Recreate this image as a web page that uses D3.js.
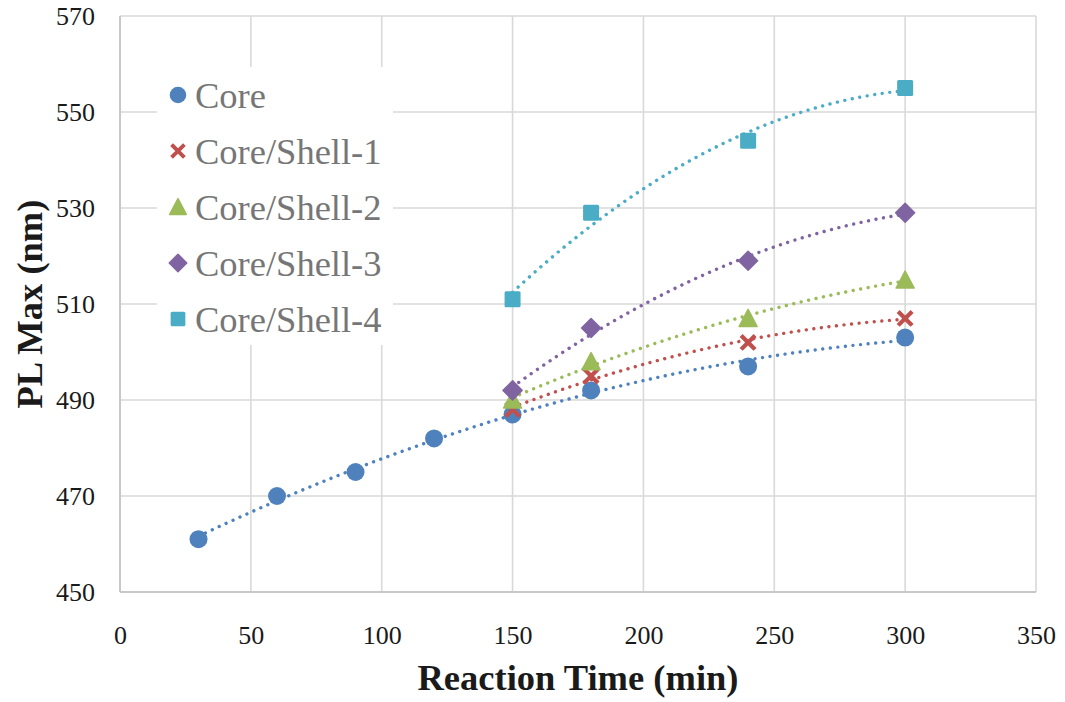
<!DOCTYPE html>
<html><head><meta charset="utf-8">
<script src="https://cdn.jsdelivr.net/npm/d3@7"></script>
<style>body{margin:0;background:#fff;}svg{display:block;}
.tick text{font-family:'Liberation Serif','Times New Roman',serif !important;font-size:26px !important;fill:#1a1a1a !important;}
</style>
</head><body>
<svg id="chart" width="1065" height="702"></svg>
<script>
const seriesNames = ["Core","Core/Shell-1","Core/Shell-2","Core/Shell-3","Core/Shell-4"];
const coreTime = [30,60,90,120,150,180,240,300];
const coreValues = [461,470,475,482,487,492,497,503];
const shellTime = [150,180,240,300];
const shell1Values = [488,495,502,507];
const shell2Values = [490,498,507,515];
const shell3Values = [492,505,519,529];
const shell4Values = [511,529,544,555];
const xTicks = [0,50,100,150,200,250,300,350];
const yTicks = [450,470,490,510,530,550,570];
const colors = ["#4F81BD","#C0504D","#9BBB59","#8064A2","#4BACC6"];
const shapes = ["circle","x","triangle","diamond","square"];

const series = [
  {name:seriesNames[0], xs:coreTime, ys:coreValues},
  {name:seriesNames[1], xs:shellTime, ys:shell1Values},
  {name:seriesNames[2], xs:shellTime, ys:shell2Values},
  {name:seriesNames[3], xs:shellTime, ys:shell3Values},
  {name:seriesNames[4], xs:shellTime, ys:shell4Values}
];

const svg = d3.select("#chart");
const M = {left:120, top:16, right:1036, bottom:592};
const x = d3.scaleLinear().domain([0,350]).range([M.left,M.right]);
const y = d3.scaleLinear().domain([450,570]).range([M.bottom,M.top]);
const serif = "'Liberation Serif','Times New Roman',serif";

// gridlines
const grid = svg.append("g");
grid.selectAll("line.h").data(yTicks).join("line")
  .attr("x1",M.left).attr("x2",M.right).attr("y1",d=>y(d)).attr("y2",d=>y(d))
  .attr("stroke","#d9d9d9").attr("stroke-width",1.6);
grid.selectAll("line.v").data(xTicks).join("line")
  .attr("y1",M.top).attr("y2",M.bottom).attr("x1",d=>x(d)).attr("x2",d=>x(d))
  .attr("stroke","#d9d9d9").attr("stroke-width",1.6);
// axis lines
svg.append("line").attr("x1",M.left).attr("x2",M.left).attr("y1",M.top).attr("y2",M.bottom).attr("stroke","#c8c8c8").attr("stroke-width",2);
svg.append("line").attr("x1",M.left).attr("x2",M.right).attr("y1",M.bottom).attr("y2",M.bottom).attr("stroke","#c8c8c8").attr("stroke-width",2);

// axes via d3 axis (tick labels only)
const xAxis = svg.append("g").attr("transform",`translate(0,${M.bottom})`)
  .call(d3.axisBottom(x).tickValues(xTicks).tickSize(0).tickPadding(34).tickFormat(d3.format("d")));
const yAxis = svg.append("g").attr("transform",`translate(${M.left},0)`)
  .call(d3.axisLeft(y).tickValues(yTicks).tickSize(0).tickPadding(25).tickFormat(d3.format("d")));
[xAxis,yAxis].forEach(a=>{
  a.select(".domain").remove();
  a.attr("font-family",serif).attr("font-size",26);
  a.selectAll("text").style("font-family",serif).style("font-size","26px").attr("fill","#1a1a1a");
});

// polynomial (order 2) least-squares trendline
function polyfit(xs, ys){
  let S=[0,0,0,0,0], T=[0,0,0];
  xs.forEach((xv,i)=>{
    for(let k=0;k<5;k++) S[k]+=Math.pow(xv,k);
    for(let k=0;k<3;k++) T[k]+=ys[i]*Math.pow(xv,k);
  });
  const A=[[S[0],S[1],S[2],T[0]],[S[1],S[2],S[3],T[1]],[S[2],S[3],S[4],T[2]]];
  for(let i=0;i<3;i++){
    let p=i; for(let r=i+1;r<3;r++) if(Math.abs(A[r][i])>Math.abs(A[p][i])) p=r;
    [A[i],A[p]]=[A[p],A[i]];
    for(let r=0;r<3;r++){ if(r===i) continue; const f=A[r][i]/A[i][i];
      for(let c=i;c<4;c++) A[r][c]-=f*A[i][c]; }
  }
  const c=[A[0][3]/A[0][0],A[1][3]/A[1][1],A[2][3]/A[2][2]];
  return t=>c[0]+c[1]*t+c[2]*t*t;
}

const line = d3.line().x(d=>x(d[0])).y(d=>y(d[1]));
series.forEach((s,i)=>{
  const f = polyfit(s.xs,s.ys);
  const x0=d3.min(s.xs), x1=d3.max(s.xs);
  const pts = d3.range(0,101).map(k=>{const t=x0+(x1-x0)*k/100; return [t,f(t)];});
  svg.append("path").attr("d",line(pts)).attr("fill","none")
    .attr("stroke",colors[i]).attr("stroke-width",3.4)
    .attr("stroke-linecap","round").attr("stroke-dasharray","0.01 7.6");
});

function drawMarker(g, shape, color, cx, cy, sc){
  sc = sc||1;
  if(shape==="circle"){
    g.append("circle").attr("cx",cx).attr("cy",cy).attr("r",9*sc).attr("fill",color);
  } else if(shape==="square"){
    const h=8*sc;
    g.append("rect").attr("x",cx-h).attr("y",cy-h).attr("width",2*h).attr("height",2*h).attr("rx",1.5).attr("fill",color);
  } else if(shape==="diamond"){
    const h=9.5*sc;
    g.append("path").attr("d",`M${cx},${cy-h}L${cx+h},${cy}L${cx},${cy+h}L${cx-h},${cy}Z`)
      .attr("fill",color).attr("stroke",color).attr("stroke-width",1.5).attr("stroke-linejoin","round");
  } else if(shape==="triangle"){
    const h=9*sc;
    g.append("path").attr("d",`M${cx},${cy-h}L${cx+h},${cy+h*0.9}L${cx-h},${cy+h*0.9}Z`)
      .attr("fill",color).attr("stroke",color).attr("stroke-width",1.5).attr("stroke-linejoin","round");
  } else if(shape==="x"){
    const h=5.5*sc;
    g.append("path").attr("d",`M${cx-h},${cy-h}L${cx+h},${cy+h}M${cx+h},${cy-h}L${cx-h},${cy+h}`)
      .attr("stroke",color).attr("stroke-width",4.2*sc).attr("stroke-linecap","square");
  }
}

series.forEach((s,i)=>{
  const g = svg.append("g");
  s.xs.forEach((xv,j)=>drawMarker(g, shapes[i], colors[i], x(xv), y(s.ys[j])));
});

// legend
const lg = svg.append("g");
lg.append("rect").attr("x",157).attr("y",67).attr("width",236).attr("height",278).attr("fill","#fff");
series.forEach((s,i)=>{
  const cy = 95 + i*56;
  drawMarker(lg, shapes[i], colors[i], 178, cy, 0.92);
  lg.append("text").attr("x",195).attr("y",cy).attr("dy","0.35em")
    .attr("font-family",serif).attr("font-size",36.5).attr("fill","#767676").text(s.name);
});

// axis titles
svg.append("text").attr("x",(M.left+M.right)/2).attr("y",690).attr("text-anchor","middle")
  .attr("font-family",serif).attr("font-weight","bold").attr("font-size",36.5).attr("fill","#1a1a1a")
  .text("Reaction Time (min)");
svg.append("text").attr("transform",`translate(42,${(M.top+M.bottom)/2}) rotate(-90)`).attr("text-anchor","middle")
  .attr("font-family",serif).attr("font-weight","bold").attr("font-size",36.5).attr("fill","#1a1a1a")
  .text("PL Max (nm)");
</script>
</body></html>
